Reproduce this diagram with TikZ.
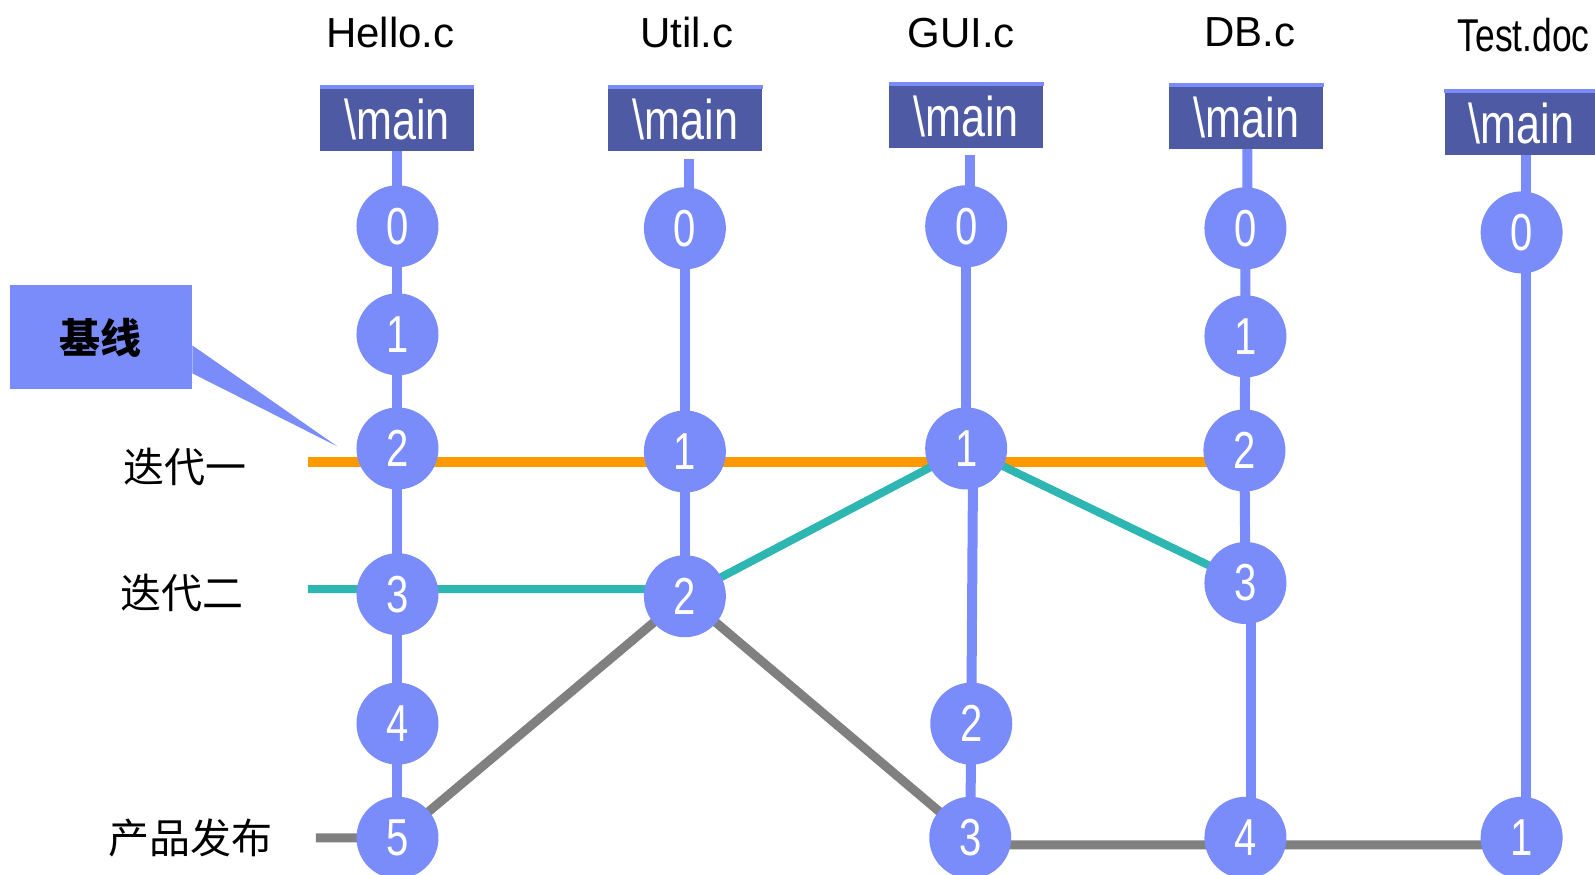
\documentclass[tikz,border=0pt]{standalone}
\usepackage{fontspec}
\setmainfont{Liberation Sans}
\newfontfamily\narrowfont[FakeStretch=0.77]{Liberation Sans}
\newfontfamily\cjkfont{Noto Sans CJK SC}
\definecolor{nodeblue}{RGB}{122,140,250}
\definecolor{boxdark}{RGB}{78,90,163}
\definecolor{lineorange}{RGB}{255,153,0}
\definecolor{lineteal}{RGB}{46,182,178}
\definecolor{linegray}{RGB}{128,128,128}
\pgfdeclarelayer{bg}
\pgfsetlayers{bg,main}
\tikzset{
  ver/.style={circle,fill=nodeblue,minimum size=41pt,inner sep=0pt,text=white,
    font=\narrowfont\fontsize{26}{26}\selectfont},
  mainbox/.style={rectangle,fill=boxdark,minimum width=77pt,minimum height=31.5pt,inner sep=0pt,
    text=white,font=\narrowfont\fontsize{28}{28}\selectfont},
  strip/.style={draw=nodeblue,line width=2pt},
  title/.style={font=\fontsize{21}{21}\selectfont,inner sep=0pt},
  cnlabel/.style={font=\cjkfont\fontsize{20.5}{20.5}\selectfont,inner sep=0pt},
  callout/.style={rectangle,fill=nodeblue,minimum width=91pt,minimum height=52pt,inner sep=0pt,
    font=\cjkfont\bfseries\fontsize{20.5}{20.5}\selectfont},
  trunk/.style={draw=nodeblue,line width=5pt},
  orangeline/.style={draw=lineorange,line width=5pt},
  tealline/.style={draw=lineteal,line width=4pt},
  grayline/.style={draw=linegray,line width=4.5pt},
}
\begin{document}
\begin{tikzpicture}[x=0.5096pt,y=-0.5096pt]
\useasboundingbox (0,0) rectangle (1565,858.5);
% titles
\node[title] (th) at (383,32) {Hello.c};
\node[title] (tu) at (674,32) {Util.c};
\node[title] (tg) at (943,32) {GUI.c};
\node[title] (td) at (1226,32) {DB.c};
\node[title,font=\narrowfont\fontsize{23}{23}\selectfont] (tt) at (1495,34) {Test.doc};
% boxes
\node[mainbox] (hb) at (389.5,117) {\textbackslash main};
\node[mainbox] (ub) at (672.5,117) {\textbackslash main};
\node[mainbox] (gb) at (948,114) {\textbackslash main};
\node[mainbox] (db) at (1223,115) {\textbackslash main};
\node[mainbox] (tb) at (1493,121) {\textbackslash main};
\foreach \b in {hb,ub,gb,db,tb} \draw[strip] (\b.north west) -- (\b.north east);
% coordinates
\coordinate (htop) at (390,148);
\coordinate (utop) at (676,156);
\coordinate (gtop) at (952,152);
\coordinate (dtop) at (1224,146);
\coordinate (ttop) at (1497,152);
\coordinate (ostart) at (302,453);
\coordinate (tstart) at (302,578);
\coordinate (gstart) at (310,822);
\coordinate (tip) at (331,438);
% nodes
\node[ver] (h0) at (390,222) {0};
\node[ver] (h1) at (390,328) {1};
\node[ver] (h2) at (390,440) {2};
\node[ver] (h3) at (390,583) {3};
\node[ver] (h4) at (390,710) {4};
\node[ver] (h5) at (390,822) {5};
\node[ver] (u0) at (672,224) {0};
\node[ver] (u1) at (672,443) {1};
\node[ver] (u2) at (672,585) {2};
\node[ver] (g0) at (948,222) {0};
\node[ver] (g1) at (948,440) {1};
\node[ver] (g2) at (953,710) {2};
\node[ver] (g3) at (952,822) {3};
\node[ver] (d0) at (1222,224) {0};
\node[ver] (d1) at (1222,330) {1};
\node[ver] (d2) at (1221,442) {2};
\node[ver] (d3) at (1222,572) {3};
\node[ver] (d4) at (1222,822) {4};
\node[ver] (t0) at (1493,228) {0};
\node[ver] (t1) at (1493,822) {1};
% lines behind nodes
\begin{pgfonlayer}{bg}
\draw[trunk] (htop) -- (h0.center) -- (h1.center) -- (h2.center) -- (h3.center) -- (h4.center) -- (h5.center);
\draw[trunk] (utop) -- (utop |- u0.center) -- (u0.center) -- (u1.center) -- (u2.center);
\draw[trunk] (gtop) -- (gtop |- g0.center) -- (g0.center) -- (g1.center);
\draw[trunk] ([xshift=3.5pt]g1.center) -- (g2.center) -- (g3.center);
\draw[trunk] (dtop) -- (dtop |- d0.center) -- (d0.center) -- (d1.center) -- (d2.center) -- (d3.center);
\draw[trunk] ([xshift=3pt]d3.center) -- ([xshift=3pt]d4.center);
\draw[trunk] (ttop) -- (ttop |- t1.center);
\draw[orangeline] (ostart) -- (ostart -| d2);
\draw[tealline] (tstart) -- (tstart -| u2) -- (u2.center) -- (g1.center) -- (d3.center);
\draw[grayline] (gstart) -- (h5.center) -- (u2.center) -- (g3.center) -- ([yshift=-3.5pt]g3.center) -- ([yshift=-3.5pt]t1.center);
\end{pgfonlayer}
% callout
\node[callout] (base) at (99,331) {基线};
\fill[nodeblue] ([yshift=-4pt]base.east) -- (tip) -- ([yshift=-18pt]base.east) -- cycle;
% labels
\node[cnlabel] (l1) at (182,458) {迭代一};
\node[cnlabel] (l2) at (179,582) {迭代二};
\node[cnlabel] (l3) at (187,822) {产品发布};
\end{tikzpicture}
\end{document}
